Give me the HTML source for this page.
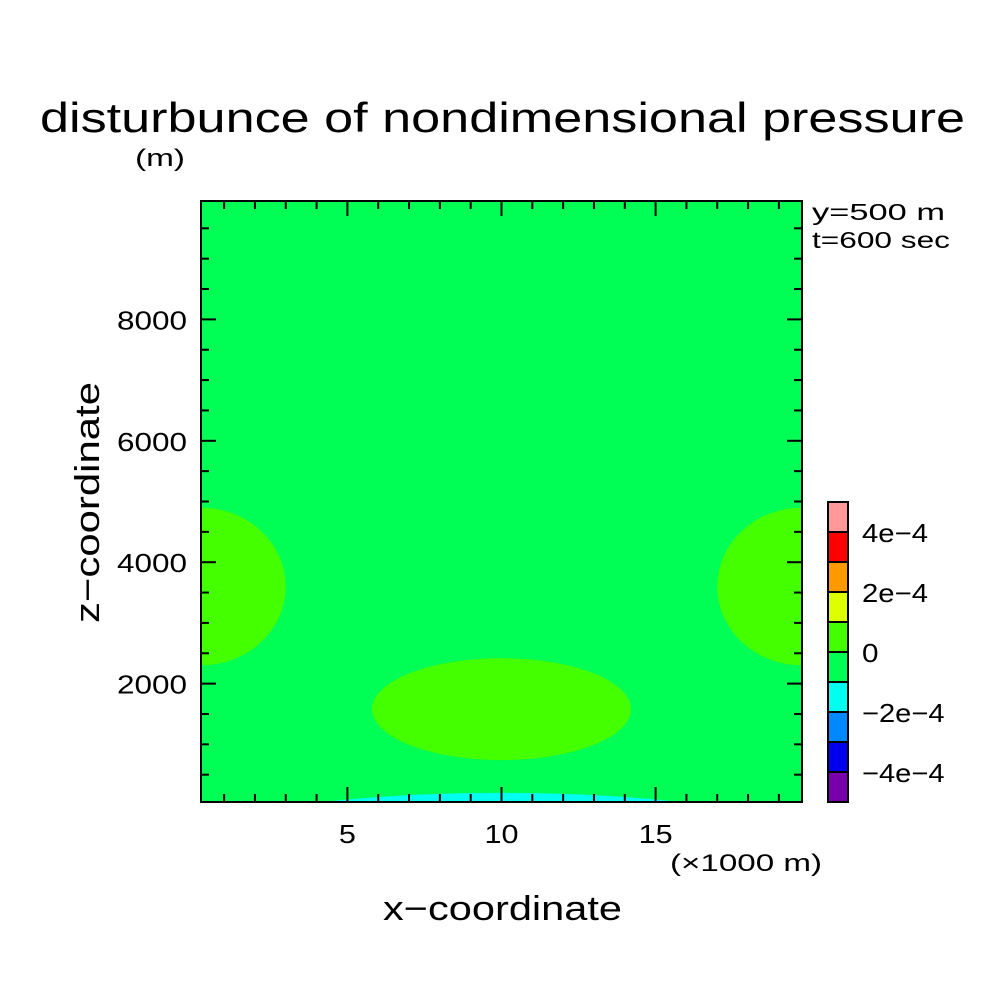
<!DOCTYPE html>
<html><head><meta charset="utf-8"><title>disturbunce of nondimensional pressure</title>
<style>
html,body{margin:0;padding:0;background:#fff;}
svg{display:block;font-family:"Liberation Sans",sans-serif;}
</style></head>
<body>
<svg id="chart" width="1004" height="1004" viewBox="0 0 1004 1004" xmlns="http://www.w3.org/2000/svg">
<rect width="1004" height="1004" fill="#fff"/>
<text x="40" y="132" font-size="42" textLength="925" lengthAdjust="spacingAndGlyphs" fill="#000">disturbunce of nondimensional pressure</text>
<text x="135" y="166" font-size="24" textLength="50" lengthAdjust="spacingAndGlyphs" fill="#000">(m)</text>
<text x="812" y="220" font-size="23" textLength="133" lengthAdjust="spacingAndGlyphs" fill="#000">y=500 m</text>
<text x="812" y="248" font-size="23" textLength="138" lengthAdjust="spacingAndGlyphs" fill="#000">t=600 sec</text>
<text x="670" y="871" font-size="24" textLength="152" lengthAdjust="spacingAndGlyphs" fill="#000">(×1000 m)</text>
<text x="383" y="920" font-size="34" textLength="239" lengthAdjust="spacingAndGlyphs" fill="#000">x−coordinate</text>
<text x="0" y="0" font-size="34" textLength="241" lengthAdjust="spacingAndGlyphs" fill="#000" transform="translate(99,623) rotate(-90)">z−coordinate</text>
<g id="plot"></g>
<g id="cbar"></g>
</svg>
<script>
const xTicksMajor = [5, 10, 15];
const yTicksMajor = [2000, 4000, 6000, 8000];
const xDomain = [0.25, 19.75];
const zDomain = [50, 9950];
// contour regions: center x (×1000 m), center z (m), radius x, radius z
const regionCx = [0.25, 19.75, 10, 10];
const regionCz = [3600, 3600, 1580, -800];
const regionRx = [2.75, 2.75, 4.2, 11];
const regionRz = [1300, 1300, 840, 1000];
const regionLevel = [1, 1, 1, 3];
const levelLabels = ["4e-4", "2e-4", "0", "-2e-4", "-4e-4"];
const levelValues = [4e-4, 2e-4, 0, -2e-4, -4e-4];
const binColors = ["#ff9999", "#ff0000", "#ff9900", "#ddff00", "#44ff00", "#00ff55", "#00ffee", "#0088ff", "#0000ee", "#7700aa"];
const binMax = [5e-4, 4e-4, 3e-4, 2e-4, 1e-4, 0, -1e-4, -2e-4, -3e-4, -4e-4];

const NS = "http://www.w3.org/2000/svg";
const L = 201, R = 802, T = 201, B = 802;
const xs = v => L + (v - xDomain[0]) / (xDomain[1] - xDomain[0]) * (R - L);
const zs = v => B - (v - zDomain[0]) / (zDomain[1] - zDomain[0]) * (B - T);
function mk(tag, attrs, parent) { const e = document.createElementNS(NS, tag); for (const k in attrs) e.setAttribute(k, attrs[k]); parent.appendChild(e); return e; }
const plot = document.getElementById('plot');
const defs = mk('defs', {}, plot);
const cp = mk('clipPath', { id: 'clip' }, defs);
mk('rect', { x: L, y: T, width: R - L, height: B - T }, cp);
const bg = mk('rect', { x: L, y: T, width: R - L, height: B - T, fill: binColors[5] }, plot);


const g = mk('g', { 'clip-path': 'url(#clip)' }, plot);
for (let i = 0; i < regionCx.length; i++) {
  const cx = xs(regionCx[i]), cy = zs(regionCz[i]);
  const rx = xs(regionCx[i] + regionRx[i]) - cx, ry = cy - zs(regionCz[i] + regionRz[i]);
  const fill = regionLevel[i] === 1 ? binColors[4] : binColors[6];
  const e = mk('ellipse', { cx: cx, cy: cy, rx: rx, ry: ry, fill: fill }, g);
  
  
}
const fr = mk('rect', { x: L, y: T, width: R - L, height: B - T, fill: 'none', stroke: '#000', 'stroke-width': 2 }, plot);


for (let v = 1; v <= 19; v++) {
  const x = xs(v), len = (v % 5 === 0) ? 15 : 8;
  mk('line', { x1: x, x2: x, y1: B, y2: B - len, stroke: '#000', 'stroke-width': 2 }, plot);
  mk('line', { x1: x, x2: x, y1: T, y2: T + len, stroke: '#000', 'stroke-width': 2 }, plot);
}
for (let v = 500; v <= 9500; v += 500) {
  const y = zs(v), len = (v % 2000 === 0) ? 15 : 8;
  mk('line', { x1: L, x2: L + len, y1: y, y2: y, stroke: '#000', 'stroke-width': 2 }, plot);
  mk('line', { x1: R, x2: R - len, y1: y, y2: y, stroke: '#000', 'stroke-width': 2 }, plot);
}
xTicksMajor.forEach(v => {
  const w = String(v).length * 17;
  const t = mk('text', { x: xs(v) - w / 2, y: 843, 'font-size': 26, textLength: w, lengthAdjust: 'spacingAndGlyphs' }, plot);
  t.textContent = v;
  
  
});
yTicksMajor.forEach(v => {
  const t = mk('text', { x: 117, y: zs(v) + 10, 'font-size': 26, textLength: 70, lengthAdjust: 'spacingAndGlyphs' }, plot);
  t.textContent = v;
  
  
});
const cb = document.getElementById('cbar');
const cbT = 502, cbB = 802, cbL = 828, cbW = 20;
const bh = (cbB - cbT) / binColors.length;
const cbY = v => cbT + (binMax[0] - v) / (binMax[0] - binMax[binMax.length - 1] + 1e-4) * (cbB - cbT);
binColors.forEach((c, i) => {
  const r = mk('rect', { x: cbL, y: cbY(binMax[i]), width: cbW, height: bh, fill: c, stroke: '#000', 'stroke-width': 2 }, cb);
  
  
});
levelLabels.forEach((s, i) => {
  const txt = s.replace(/-/g, '−');
  const w = txt.length * 16.5;
  const t = mk('text', { x: 862, y: cbY(levelValues[i]) + 10, 'font-size': 26, textLength: w, lengthAdjust: 'spacingAndGlyphs' }, cb);
  t.textContent = txt;
  
  
});
</script>
</body></html>
